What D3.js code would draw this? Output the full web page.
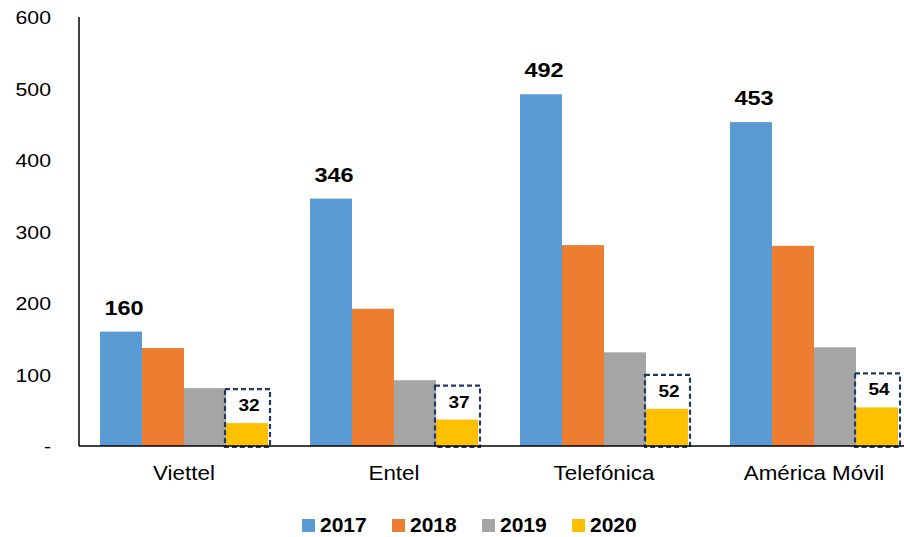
<!DOCTYPE html>
<html>
<head>
<meta charset="utf-8">
<script src="https://cdn.jsdelivr.net/npm/d3@7"></script>
<style>
body { margin: 0; background: #fff; }
svg { font-family: "Liberation Sans", Arial, sans-serif; }
</style>
</head>
<body>
<div id="chart"></div>
<script>
// chart data
const companies = ["Viettel", "Entel", "Telefónica", "América Móvil"];
const years = ["2017", "2018", "2019", "2020"];
const values2017 = [160, 346, 492, 453];
const values2018 = [137, 192, 281, 280];
const values2019 = [81, 92, 131, 138];
const values2020 = [32, 37, 52, 54];
const yTicks = [0, 100, 200, 300, 400, 500, 600];
const colors = ["#5B9BD5", "#ED7D31", "#A5A5A5", "#FFC000"];

const seriesValues = [values2017, values2018, values2019, values2020];

const width = 904, height = 537;
const plot = { left: 79, right: 919, top: 17, bottom: 446 };
const stretch = 1.12; // the reference text is a little wider than plain Arial

const svg = d3.select("#chart").append("svg")
    .attr("width", width)
    .attr("height", height);

const x0 = d3.scaleBand()
    .domain(companies)
    .range([plot.left, plot.right])
    .paddingInner(0.2)
    .paddingOuter(0.1);

const x1 = d3.scaleBand()
    .domain(years)
    .range([0, x0.bandwidth()]);

const y = d3.scaleLinear()
    .domain([0, 600])
    .range([plot.bottom, plot.top]);

// helper: place text with a horizontal stretch
function place(sel, fx, fy) {
    return sel.attr("transform", (d, i) => `translate(${fx(d, i)},${fy(d, i)}) scale(${stretch},1)`);
}

// y tick labels
place(svg.append("g").selectAll("text")
    .data(yTicks)
    .join("text"), () => 51, d => y(d) + 7)
    .attr("text-anchor", "end")
    .attr("font-size", 19)
    .text(d => d === 0 ? "-" : d);

// bars
const groups = svg.append("g").selectAll("g")
    .data(companies)
    .join("g")
    .attr("transform", d => `translate(${x0(d)},0)`);

groups.selectAll("rect")
    .data((c, i) => years.map((yr, j) => ({ year: yr, value: seriesValues[j][i], color: colors[j] })))
    .join("rect")
    .attr("x", d => x1(d.year))
    .attr("y", d => y(d.value))
    .attr("width", x1.bandwidth())
    .attr("height", d => y(0) - y(d.value))
    .attr("fill", d => d.color);

// 2017 labels
place(groups.append("text"),
    () => x1("2017") + x1.bandwidth() / 2 + 3,
    (c, i) => y(values2017[i]) - 17)
    .attr("text-anchor", "middle")
    .attr("font-size", 21)
    .attr("font-weight", "bold")
    .text((c, i) => values2017[i]);

// 2020 dashed boxes and labels
groups.append("rect")
    .attr("x", x1("2020") - 1)
    .attr("y", (c, i) => y(values2020[i]) - 34)
    .attr("width", x1.bandwidth() + 3)
    .attr("height", (c, i) => y(0) - y(values2020[i]) + 35)
    .attr("fill", "none")
    .attr("stroke", "#1F3864")
    .attr("stroke-width", 2.2)
    .attr("stroke-dasharray", "5,3");

place(groups.append("text"),
    () => x1("2020") + x1.bandwidth() / 2 + 2,
    (c, i) => y(values2020[i]) - 12)
    .attr("text-anchor", "middle")
    .attr("font-size", 17)
    .attr("font-weight", "bold")
    .text((c, i) => values2020[i]);

// axis lines
svg.append("line")
    .attr("x1", plot.left).attr("x2", plot.left)
    .attr("y1", plot.top).attr("y2", plot.bottom)
    .attr("stroke", "#000").attr("stroke-width", 1.5);

svg.append("line")
    .attr("x1", plot.left).attr("x2", width)
    .attr("y1", plot.bottom).attr("y2", plot.bottom)
    .attr("stroke", "#000").attr("stroke-width", 1.5);

// category labels
place(svg.append("g").selectAll("text")
    .data(companies)
    .join("text"), d => x0(d) + x0.bandwidth() / 2, () => 480)
    .attr("text-anchor", "middle")
    .attr("font-size", 20)
    .text(d => d);

// legend
const legend = svg.append("g")
    .attr("transform", "translate(302,519)");

const items = legend.selectAll("g")
    .data(years)
    .join("g")
    .attr("transform", (d, i) => `translate(${i * 90},0)`);

items.append("rect")
    .attr("width", 13)
    .attr("height", 13)
    .attr("fill", (d, i) => colors[i]);

items.append("text")
    .attr("x", 18)
    .attr("y", 13)
    .attr("font-size", 21)
    .attr("font-weight", "bold")
    .text(d => d);
</script>
</body>
</html>
